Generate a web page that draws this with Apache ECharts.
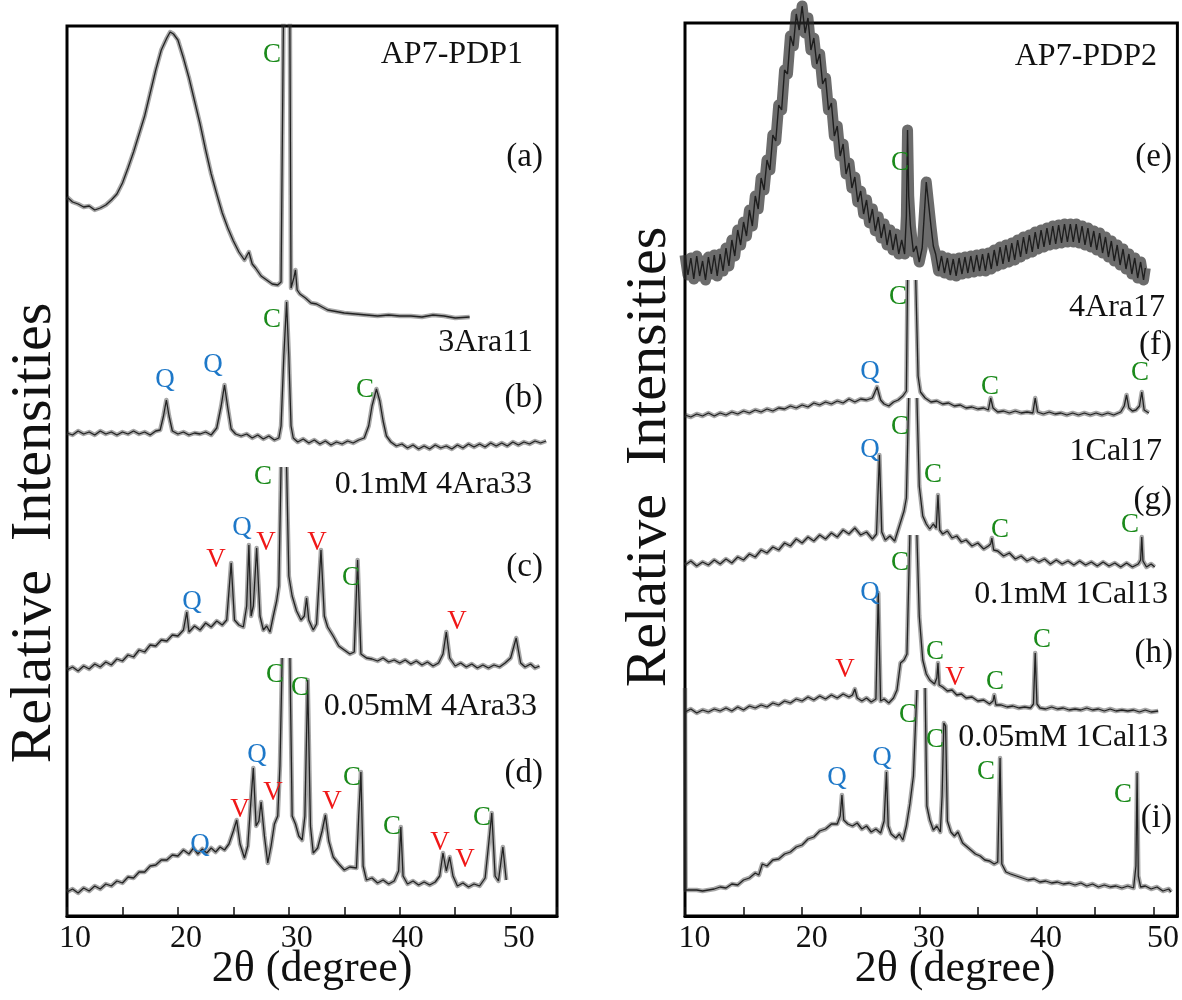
<!DOCTYPE html>
<html><head><meta charset="utf-8">
<script src="https://cdn.jsdelivr.net/npm/echarts@6/dist/echarts.min.js"></script>
<style>html,body{margin:0;padding:0;background:#fff}#c{width:1182px;height:1000px}</style>
</head><body><div id="c"></div>
<script>
// ---- DATA: [2theta (deg), stacked relative intensity] ; null = gap in trace ----
const traceA = [[10,719],[10.5,714],[11,712],[11.5,709],[12,710],[12.5,706],[13,708],[13.5,711],[14,716],[14.5,722],[15,733],[15.5,748],[16,764],[16.5,782],[17,800],[17.5,823],[18,846],[18.5,866],[19,878],[19.3,884],[19.6,882],[20,876],[20.5,858],[21,838],[21.5,815],[22,792],[22.5,766],[23,742],[23.5,722],[24,703],[24.5,688],[25,675],[25.5,664],[26,656],[26.4,664],[26.7,652],[27,648],[27.5,640],[28,636],[28.5,632],[29,631],[29.3,634],[29.6,1000],null,[30.05,1000],[30.2,628],[30.45,638],[30.6,646],[30.75,626],[31,622],[31.5,618],[32,613],[32.5,612],[33,609],[33.5,606],[34,605],[35,603],[36,602],[37,601],[38,600],[39,601],[40,600],[41,600],[42,599],[43,601],[44,600],[45,598],[46.3,599]];
const traceB = [[10,483],[10.5,481],[11,485],[11.5,482],[12,484],[12.5,481],[13,485],[13.5,482],[14,484],[14.5,481],[15,484],[15.5,482],[16,485],[16.5,482],[17,484],[17.5,481],[18,485],[18.4,486],[18.7,500],[18.96,516],[19.2,500],[19.5,485],[20,482],[20.5,484],[21,481],[21.5,483],[22,482],[22.5,484],[23,481],[23.5,488],[23.9,510],[24.2,531],[24.5,508],[24.8,487],[25.2,482],[25.7,480],[26.2,482],[26.7,478],[27.2,481],[27.7,477],[28.2,480],[28.7,476],[29.1,478],[29.3,490],[29.55,560],[29.8,614],[30,560],[30.2,490],[30.4,478],[30.8,474],[31.3,477],[31.8,473],[32.3,476],[32.8,472],[33.3,475],[33.8,471],[34.3,474],[34.8,472],[35.3,475],[35.8,473],[36.3,476],[36.8,478],[37.2,490],[37.5,510],[37.9,527],[38.2,515],[38.5,495],[38.8,480],[39.2,474],[39.7,470],[40.2,472],[40.7,468],[41.2,471],[41.7,467],[42.2,470],[42.7,467],[43.2,471],[43.7,468],[44.2,470],[44.7,467],[45.2,471],[45.7,468],[46.2,472],[46.7,469],[47.2,472],[47.7,469],[48.2,473],[48.7,470],[49.2,473],[49.7,470],[50.2,474],[50.7,471],[51.2,474],[51.7,472],[52.2,475],[52.7,473],[53.2,475]];
const traceC = [[10,246],[10.5,249],[11,245],[11.5,250],[12,247],[12.5,252],[13,249],[13.5,254],[14,251],[14.5,257],[15,255],[15.5,261],[16,259],[16.5,266],[17,264],[17.5,271],[18,270],[18.5,276],[19,275],[19.5,281],[20,280],[20.5,286],[20.8,304],[21,284],[21.5,290],[22,286],[22.5,293],[23,289],[23.5,295],[24,291],[24.4,296],[24.8,353],[25.1,296],[25.5,291],[25.9,289],[26.2,310],[26.4,371],[26.6,300],[26.8,310],[27.1,368],[27.4,300],[27.7,286],[28,290],[28.3,284],[28.6,300],[28.9,315],[29.1,330],[29.3,449],null,[29.8,449],[30,340],[30.3,320],[30.7,305],[31.1,296],[31.4,300],[31.6,318],[31.8,296],[32.2,286],[32.5,292],[32.9,366],[33.2,300],[33.5,289],[34,280],[34.5,270],[35,266],[35.5,262],[35.9,264],[36.2,356],[36.5,262],[37,258],[37.5,257],[38,255],[38.5,258],[39,254],[39.5,256],[40,253],[40.5,256],[41,252],[41.5,255],[42,251],[42.5,254],[43,250],[43.5,253],[43.9,262],[44.2,284],[44.5,258],[45,250],[45.5,253],[46,249],[46.5,252],[47,248],[47.5,251],[48,248],[48.5,251],[49,249],[49.5,253],[50,258],[50.5,278],[50.9,253],[51.3,249],[51.8,252],[52.2,248],[52.6,250]];
const traceD = [[10,24],[10.5,27],[11,23],[11.5,28],[12,25],[12.5,30],[13,27],[13.5,32],[14,30],[14.5,35],[15,33],[15.5,39],[16,38],[16.5,44],[17,44],[17.5,50],[18,51],[18.5,56],[19,56],[19.5,61],[20,60],[20.5,66],[21,62],[21.4,68],[21.8,62],[22.2,67],[22.6,63],[23,68],[23.4,64],[23.8,69],[24.2,66],[24.6,72],[25,85],[25.3,96],[25.6,72],[26,58],[26.3,70],[26.55,110],[26.8,148],[27.05,90],[27.3,95],[27.5,114],[27.8,80],[28.1,53],[28.4,70],[28.7,92],[29,100],[29.2,150],[29.4,258],null,[30.1,258],[30.3,100],[30.6,92],[30.9,80],[31.2,76],[31.45,100],[31.7,236],[31.95,90],[32.2,63],[32.6,68],[33,85],[33.3,101],[33.6,75],[34,59],[34.5,52],[35,46],[35.5,49],[36.1,48],[36.3,100],[36.5,144],[36.7,50],[37,36],[37.5,38],[38,33],[38.5,36],[39,32],[39.5,35],[39.9,45],[40.1,89],[40.3,40],[40.7,32],[41.2,35],[41.7,31],[42.2,34],[42.7,31],[43.2,34],[43.6,40],[43.9,63],[44.2,45],[44.5,59],[44.8,40],[45.2,30],[45.7,33],[46.2,29],[46.7,32],[47.2,30],[47.7,38],[48,70],[48.3,103],[48.6,40],[48.9,35],[49.3,69],[49.6,36]];
const traceE = [[10,661],[10.25,641],[10.5,658],[10.75,637],[11,660],[11.25,640],[11.5,655],[11.75,636],[12,659],[12.25,642],[12.5,661],[12.75,640],[13,662],[13.25,645],[13.5,668],[13.75,650],[14,676],[14.25,660],[14.5,686],[14.75,671],[15,694],[15.25,680],[15.5,706],[15.75,690],[16,720],[16.25,707],[16.5,738],[16.75,726],[17,756],[17.25,746],[17.5,781],[17.75,775],[18,811],[18.25,806],[18.5,846],[18.75,842],[19,880],[19.25,870],[19.5,902],[19.75,886],[20,910],[20.25,883],[20.5,898],[20.75,866],[21,878],[21.25,852],[21.5,862],[21.75,832],[22,838],[22.25,806],[22.5,813],[22.75,780],[23,790],[23.25,760],[23.5,772],[23.75,742],[24,753],[24.25,728],[24.5,739],[24.75,714],[25,725],[25.25,702],[25.5,716],[25.75,693],[26,707],[26.25,685],[26.5,699],[26.75,678],[27,692],[27.25,671],[27.5,686],[27.75,666],[28,682],[28.25,662],[28.5,676],[28.75,662],[28.9,700],[29,786],[29.1,720],[29.25,690],[29.5,664],[29.75,670],[30,654],[30.25,668],[30.45,705],[30.6,734],[30.8,712],[31,690],[31.2,670],[31.4,662],[31.65,645],[31.9,660],[32.15,643],[32.4,658],[32.65,641],[32.9,657],[33.15,640],[33.4,658],[33.65,642],[33.9,659],[34.15,643],[34.4,660],[34.65,644],[34.9,661],[35.15,645],[35.4,662],[35.65,645],[35.9,663],[36.15,647],[36.4,666],[36.65,650],[36.9,669],[37.15,652],[37.4,671],[37.65,654],[37.9,673],[38.15,656],[38.4,676],[38.65,659],[38.9,679],[39.15,662],[39.4,681],[39.65,664],[39.9,684],[40.15,667],[40.4,686],[40.65,669],[40.9,688],[41.15,671],[41.4,690],[41.65,672],[41.9,691],[42.15,673],[42.4,692],[42.65,674],[42.9,692],[43.15,674],[43.4,692],[43.65,673],[43.9,690],[44.15,671],[44.4,688],[44.65,669],[44.9,685],[45.15,666],[45.4,683],[45.65,663],[45.9,679],[46.15,659],[46.4,675],[46.65,655],[46.9,671],[47.15,651],[47.4,667],[47.65,647],[47.9,662],[48.15,642],[48.4,658],[48.65,638],[48.9,654],[49.15,636],[49.3,648]];
const traceF = [[10,501],[10.5,499],[11,502],[11.5,500],[12,503],[12.5,500],[13,503],[13.5,501],[14,504],[14.5,502],[15,505],[15.5,503],[16,506],[16.5,504],[17,507],[17.5,505],[18,508],[18.5,507],[19,510],[19.5,508],[20,511],[20.5,509],[21,513],[21.5,511],[22,514],[22.5,512],[23,515],[23.5,513],[24,517],[24.5,514],[25,517],[25.5,516],[26,518],[26.4,529],[26.7,516],[27,512],[27.4,510],[27.8,514],[28.2,516],[28.6,520],[28.9,525],[29,636],null,[29.7,636],[29.9,540],[30.1,524],[30.5,518],[31,514],[31.5,515],[32,512],[32.5,513],[33,510],[33.5,511],[34,508],[34.5,509],[35,507],[35.5,508],[35.9,506],[36.1,518],[36.3,508],[36.7,504],[37.2,505],[37.7,503],[38.2,505],[38.7,503],[39.2,504],[39.7,503],[39.9,518],[40.1,504],[40.6,502],[41.1,504],[41.6,502],[42.1,503],[42.6,501],[43.1,503],[43.6,501],[44.1,503],[44.6,501],[45.1,503],[45.6,501],[46.1,503],[46.6,501],[47.2,504],[47.5,510],[47.7,521],[47.9,508],[48.2,505],[48.5,506],[48.8,510],[49,524],[49.2,506],[49.6,503]];
const traceG = [[10,351],[10.5,355],[11,350],[11.5,354],[12,351],[12.5,356],[13,352],[13.5,357],[14,353],[14.5,359],[15,356],[15.5,362],[16,359],[16.5,366],[17,363],[17.5,369],[18,366],[18.5,373],[19,370],[19.5,377],[20,373],[20.5,379],[21,375],[21.5,381],[22,377],[22.5,383],[23,379],[23.5,386],[24,382],[24.5,388],[25,381],[25.5,384],[26,377],[26.35,382],[26.6,461],[26.8,384],[27.1,376],[27.5,380],[27.9,375],[28.3,390],[28.7,405],[28.9,418],[29.1,518],null,[29.8,518],[30,430],[30.3,400],[30.6,392],[30.9,387],[31.2,392],[31.45,388],[31.6,421],[31.75,386],[32,382],[32.4,385],[32.8,378],[33.2,380],[33.6,374],[34,376],[34.5,370],[35,373],[35.5,367],[35.9,370],[36.1,372],[36.2,378],[36.35,366],[36.7,365],[37.2,360],[37.7,363],[38.2,357],[38.7,360],[39.2,355],[39.7,358],[40.2,354],[40.7,357],[41.2,352],[41.7,356],[42.2,352],[42.7,355],[43.2,351],[43.7,355],[44.2,351],[44.7,354],[45.2,350],[45.7,354],[46.2,350],[46.7,353],[47.2,349],[47.7,353],[48.2,349],[48.7,352],[48.9,356],[49,379],[49.1,355],[49.4,349],[49.8,352],[50.1,349]];
const traceH = [[10,204],[10.5,207],[11,203],[11.5,206],[12,204],[12.5,207],[13,205],[13.5,208],[14,205],[14.5,209],[15,206],[15.5,210],[16,208],[16.5,211],[17,209],[17.5,213],[18,211],[18.5,215],[19,213],[19.5,217],[20,215],[20.5,219],[21,216],[21.5,220],[22,217],[22.5,221],[23,218],[23.5,222],[24,219],[24.3,221],[24.5,227],[24.7,218],[25.1,215],[25.5,218],[25.9,214],[26.3,217],[26.5,323],[26.7,215],[27,217],[27.4,213],[27.8,218],[28.1,226],[28.4,253],[28.7,256],[28.95,262],[29.2,381],null,[29.8,381],[30,300],[30.3,256],[30.6,242],[30.9,236],[31.3,232],[31.5,238],[31.6,253],[31.7,231],[32,229],[32.4,225],[32.8,226],[33.2,221],[33.6,222],[34,218],[34.5,219],[35,215],[35.5,216],[36,212],[36.3,215],[36.4,221],[36.55,211],[37,211],[37.5,209],[38,210],[38.5,208],[39,209],[39.5,208],[39.75,212],[39.9,263],[40.05,212],[40.3,208],[40.8,207],[41.3,209],[41.8,207],[42.3,208],[42.8,206],[43.3,207],[43.8,206],[44.3,208],[44.8,206],[45.3,207],[45.8,205],[46.3,207],[46.8,205],[47.3,206],[47.8,205],[48.3,206],[48.8,204],[49.3,206],[49.8,204],[50.4,205]];
const traceI = [[10,228],[10.05,26],[10.5,26],[11,26],[11.5,25],[12,26],[12.5,27],[13,29],[13.5,28],[14,32],[14.5,31],[15,36],[15.5,38],[16,43],[16.3,41],[16.6,52],[17,50],[17.5,56],[18,57],[18.5,62],[19,64],[19.5,69],[20,71],[20.5,77],[21,79],[21.5,85],[22,87],[22.5,92],[23,92],[23.25,100],[23.4,121],[23.55,96],[23.9,92],[24.3,90],[24.7,93],[25.1,87],[25.5,90],[25.9,84],[26.3,87],[26.7,83],[27,95],[27.2,144],[27.35,90],[27.6,82],[28,78],[28.3,82],[28.6,76],[28.9,90],[29.2,112],[29.5,140],[29.8,226],null,[30.5,228],[30.65,110],[30.9,96],[31.2,86],[31.5,90],[31.8,84],[31.95,120],[32.1,193],[32.25,190],[32.4,95],[32.7,84],[33,80],[33.3,84],[33.7,73],[34,70],[34.4,66],[34.8,62],[35.2,60],[35.6,56],[36,55],[36.4,52],[36.7,54],[36.9,158],[37.05,52],[37.4,44],[37.8,42],[38.3,40],[38.8,38],[39.3,36],[39.8,37],[40.3,34],[40.8,35],[41.3,33],[41.8,34],[42.3,32],[42.8,33],[43.3,31],[43.8,33],[44.3,30],[44.8,32],[45.3,29],[45.8,31],[46.3,29],[46.8,30],[47.3,28],[47.8,30],[48.3,28],[48.5,50],[48.6,143],[48.7,40],[48.9,29],[49.3,30],[49.8,27],[50.3,29],[50.8,25],[51.3,27],[51.5,24]];

const xTickLabels = [10, 20, 30, 40, 50];
const panelTraces = [[traceA, traceB, traceC, traceD], [traceE, traceF, traceG, traceH, traceI]];
const sampleNames = [["AP7-PDP1", "3Ara11", "0.1mM 4Ara33", "0.05mM 4Ara33"], ["AP7-PDP2", "4Ara17", "1Cal17", "0.1mM 1Cal13", "0.05mM 1Cal13"]];
const panelTags = [["(a)", "(b)", "(c)", "(d)"], ["(e)", "(f)", "(g)", "(h)", "(i)"]];

// ---- LAYOUT / STYLE ----
const FONT = "'Liberation Serif','Times New Roman',serif";
const GREEN = '#1b8a1b', BLUE = '#1e78c8', RED = '#f01818';
const grids = [
  {left: 67, top: 26, width: 490, height: 890, xmax: 54.18, ymax: 890, labelPad: 16},
  {left: 685, top: 23, width: 494, height: 893, xmax: 52.04, ymax: 893, labelPad: 19}
];
const nameLayout = [
  [[523,55],[533,343],[532,485],[537,707]],
  [[1157,57],[1165,308],[1162,452],[1168,595],[1168,738]]
];
const tagLayout = [
  [[543,157],[543,398],[543,567],[543,773]],
  [[1172,157],[1172,345],[1172,500],[1173,653],[1172,818]]
];
// phase markers: [letter, x px, y px]
const markers = [
  ['C',272,55],['C',272,320],['Q',165,380],['Q',213,365],['C',365,390],
  ['C',263,477],['Q',192,602],['V',216,560],['Q',242,528],['V',266,543],['V',317,543],['C',351,578],['V',457,622],
  ['C',275,675],['C',300,688],['Q',257,755],['V',273,793],['V',240,810],['Q',200,845],['V',332,802],['C',352,778],['C',392,827],['V',440,843],['V',465,860],['C',482,818],
  ['C',900,163],['C',898,297],['Q',870,372],['C',990,387],['C',1140,373],
  ['C',900,427],['Q',870,450],['C',933,475],['C',1000,530],['C',1130,525],
  ['C',900,563],['Q',870,593],['C',935,652],['C',1042,640],['V',845,670],['V',955,678],['C',995,682],
  ['C',908,715],['C',935,740],['Q',882,758],['Q',837,778],['C',986,772],['C',1123,795]
];
const markerColor = {C: GREEN, Q: BLUE, V: RED};

const chart = echarts.init(document.getElementById('c'), null, {renderer: 'canvas'});
const toData = arr => arr.map(p => p === null ? ['-', '-'] : p);

const series = [];
panelTraces.forEach((traces, gi) => {
  traces.forEach((tr, ti) => {
    const heavy = (gi === 1 && ti === 0);
    const clip = !heavy;
    series.push({type: 'line', xAxisIndex: gi, yAxisIndex: gi, data: toData(tr), showSymbol: false, symbol: 'none',
      clip: clip, silent: true, z: 2,
      lineStyle: {width: heavy ? 11 : 4.5, color: heavy ? 'rgba(45,45,45,0.7)' : 'rgba(60,60,60,0.45)', join: 'round'}});
    series.push({type: 'line', xAxisIndex: gi, yAxisIndex: gi, data: toData(tr), showSymbol: false, symbol: 'none',
      clip: clip, silent: true, z: 3,
      lineStyle: {width: heavy ? 1.4 : 1.3, color: heavy ? '#1e1e1e' : '#222'}});
  });
});

const graphic = [];
sampleNames.forEach((names, gi) => names.forEach((n, i) => {
  graphic.push({type: 'text', x: nameLayout[gi][i][0], y: nameLayout[gi][i][1], z: 10,
    style: {text: n, font: '32px ' + FONT, fill: '#111', align: 'right', verticalAlign: 'middle', textAlign: 'right', textVerticalAlign: 'middle'}});
}));
panelTags.forEach((tags, gi) => tags.forEach((t, i) => {
  graphic.push({type: 'text', x: tagLayout[gi][i][0], y: tagLayout[gi][i][1], z: 10,
    style: {text: t, font: '33px ' + FONT, fill: '#111', align: 'right', verticalAlign: 'middle', textAlign: 'right', textVerticalAlign: 'middle'}});
}));
markers.forEach(m => {
  graphic.push({type: 'text', x: m[1], y: m[2], z: 10,
    style: {text: m[0], font: '27px ' + FONT, fill: markerColor[m[0]], align: 'center', verticalAlign: 'middle', textAlign: 'center', textVerticalAlign: 'middle'}});
});
[[35, 533], [650, 457]].forEach(p => {
  graphic.push({type: 'text', x: p[0], y: p[1], rotation: Math.PI / 2, z: 10,
    style: {text: 'Relative  Intensities', font: '58px ' + FONT, fill: '#111', align: 'center', verticalAlign: 'middle', textAlign: 'center', textVerticalAlign: 'middle'}});
});
[[312, 969], [955, 969]].forEach(p => {
  graphic.push({type: 'text', x: p[0], y: p[1], z: 10,
    style: {text: '2θ (degree)', font: '44px ' + FONT, fill: '#111', align: 'center', verticalAlign: 'middle', textAlign: 'center', textVerticalAlign: 'middle'}});
});

chart.setOption({
  animation: false,
  backgroundColor: '#fff',
  grid: grids.map(g => ({left: g.left, top: g.top, width: g.width, height: g.height, show: true, borderColor: '#000', borderWidth: 3, backgroundColor: 'transparent', containLabel: false})),
  xAxis: grids.map((g, i) => ({type: 'value', gridIndex: i, min: 10, max: g.xmax, interval: 5,
    axisLine: {show: true, lineStyle: {color: '#000', width: 3}},
    axisTick: {show: true, inside: true, length: 9, lineStyle: {color: '#111', width: 1.5}},
    splitLine: {show: false},
    axisLabel: {show: true, margin: 7, color: '#111', fontFamily: FONT, fontSize: 32, padding: [0, 0, 0, g.labelPad],
      formatter: v => xTickLabels.indexOf(v) >= 0 ? String(v) : ''}
  })),
  yAxis: grids.map((g, i) => ({type: 'value', gridIndex: i, min: 0, max: g.ymax, show: false, splitLine: {show: false}})),
  series: series,
  graphic: graphic
});
</script></body></html>
